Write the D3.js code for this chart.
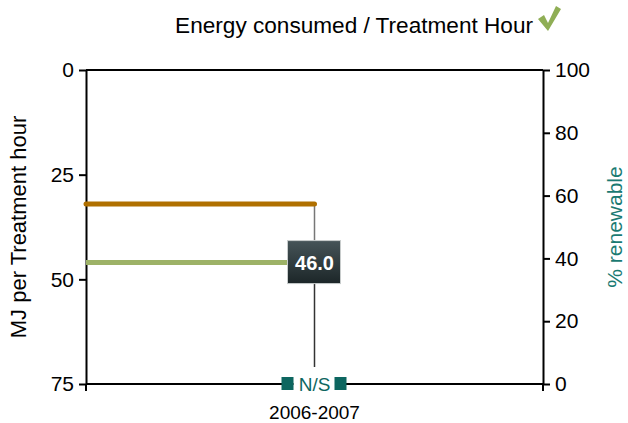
<!DOCTYPE html>
<html>
<head>
<meta charset="utf-8">
<script src="https://cdn.jsdelivr.net/npm/d3@7"></script>
<style>
  body { margin: 0; background: #fff; }
  text { font-family: "Liberation Sans", Arial, sans-serif; }
</style>
</head>
<body>
<script>
// data
var years = ["2006-2007"];
var energyValues = [46.0];      // MJ per treatment hour
var targetValues = [32];        // orange reference line
var renewableLabels = ["N/S"];
var leftTicks = [0, 25, 50, 75];
var rightTicks = [0, 20, 40, 60, 80, 100];

var margin = { top: 70, right: 85, bottom: 39, left: 86 };
var width = 628 - margin.left - margin.right,
    height = 423 - margin.top - margin.bottom;

var svg = d3.select("body").append("svg")
    .attr("width", 628)
    .attr("height", 423);

var g = svg.append("g")
    .attr("transform", "translate(" + margin.left + "," + margin.top + ")");

// scales
var x = d3.scalePoint().domain(years).range([0, width]).padding(0.5);
var y = d3.scaleLinear().domain([0, 75]).range([0, height]);
var y2 = d3.scaleLinear().domain([0, 100]).range([height, 0]);

// gradient for the value box
var defs = svg.append("defs");
var grad = defs.append("linearGradient").attr("id", "boxGrad")
    .attr("x1", 0).attr("y1", 0).attr("x2", 0).attr("y2", 1);
grad.append("stop").attr("offset", "0%").attr("stop-color", "#465458");
grad.append("stop").attr("offset", "100%").attr("stop-color", "#1c2628");

// axes
var leftAxis = g.append("g")
    .call(d3.axisLeft(y).tickValues(leftTicks).tickSize(7).tickSizeOuter(0));
var rightAxis = g.append("g").attr("transform", "translate(" + width + ",0)")
    .call(d3.axisRight(y2).tickValues(rightTicks).tickSize(7).tickSizeOuter(0));
[leftAxis, rightAxis].forEach(function (a) {
    a.attr("font-size", 21).attr("font-family", "Liberation Sans, Arial, sans-serif");
    a.select(".domain").attr("stroke", "#000").attr("stroke-width", 2);
    a.selectAll(".tick line").attr("stroke", "#000").attr("stroke-width", 2);
    a.selectAll(".tick text").attr("fill", "#000");
});
leftAxis.selectAll(".tick text").attr("x", -12);
rightAxis.selectAll(".tick text").attr("x", 12);

// top and bottom frame lines
g.append("line").attr("x1", 0).attr("x2", width).attr("y1", 0).attr("y2", 0)
    .attr("stroke", "#000").attr("stroke-width", 2);
g.append("line").attr("x1", 0).attr("x2", width).attr("y1", height).attr("y2", height)
    .attr("stroke", "#000").attr("stroke-width", 2);
// bottom corner ticks
[0, width].forEach(function (px) {
    g.append("line").attr("x1", px).attr("x2", px).attr("y1", height).attr("y2", height + 7)
        .attr("stroke", "#000").attr("stroke-width", 2);
});

// x label
g.selectAll(".xlab").data(years).enter().append("text")
    .attr("x", function (d) { return x(d); })
    .attr("y", height + 35)
    .attr("text-anchor", "middle")
    .attr("font-size", "19px")
    .text(function (d) { return d; });

// drop line from reference line to the marker
years.forEach(function (d, i) {
    var cx = x(d);
    g.append("line").attr("x1", cx).attr("x2", cx)
        .attr("y1", y(targetValues[i])).attr("y2", y(energyValues[i]))
        .attr("stroke", "#777").attr("stroke-width", 1.5);
    g.append("line").attr("x1", cx).attr("x2", cx)
        .attr("y1", y(energyValues[i])).attr("y2", height - 17)
        .attr("stroke", "#333").attr("stroke-width", 1.5);
});

// reference (orange) and energy (green) lines
g.selectAll(".target").data(targetValues).enter().append("line")
    .attr("x1", 0).attr("x2", function (d, i) { return x(years[i]); })
    .attr("y1", function (d) { return y(d); }).attr("y2", function (d) { return y(d); })
    .attr("stroke", "#b07000").attr("stroke-width", 5).attr("stroke-linecap", "round");

g.selectAll(".energy").data(energyValues).enter().append("line")
    .attr("x1", 0).attr("x2", function (d, i) { return x(years[i]); })
    .attr("y1", function (d) { return y(d); }).attr("y2", function (d) { return y(d); })
    .attr("stroke", "#9db267").attr("stroke-width", 5);

// value box
var boxes = g.selectAll(".vbox").data(energyValues).enter().append("g")
    .attr("transform", function (d, i) { return "translate(" + x(years[i]) + "," + y(d) + ")"; });
boxes.append("rect")
    .attr("x", -27).attr("y", -22).attr("width", 53).attr("height", 43)
    .attr("fill", "url(#boxGrad)").attr("stroke", "#c8cccc").attr("stroke-width", 1);
boxes.append("text")
    .attr("x", 0).attr("y", 7)
    .attr("text-anchor", "middle")
    .attr("font-size", "20px").attr("font-weight", "bold")
    .attr("fill", "#fff")
    .text(function (d) { return d.toFixed(1); });

// renewable marker on the bottom axis
var ns = g.selectAll(".ns").data(renewableLabels).enter().append("g")
    .attr("transform", function (d, i) { return "translate(" + x(years[i]) + "," + height + ")"; });
ns.append("rect").attr("x", -21).attr("y", -10).attr("width", 42).attr("height", 18).attr("fill", "#fff");
ns.append("rect").attr("x", -33).attr("y", -7).attr("width", 12).attr("height", 13).attr("fill", "#0d6660");
ns.append("rect").attr("x", 20).attr("y", -7).attr("width", 12).attr("height", 13).attr("fill", "#0d6660");
ns.append("text").attr("x", 0).attr("y", 7).attr("text-anchor", "middle")
    .attr("font-size", "19px").attr("fill", "#0d6660")
    .text(function (d) { return d; });

// axis titles
svg.append("text")
    .attr("transform", "translate(26," + (margin.top + height / 2) + ") rotate(-90)")
    .attr("text-anchor", "middle")
    .attr("font-size", "22px")
    .text("MJ per Treatment hour");
svg.append("text")
    .attr("transform", "translate(622," + (margin.top + height / 2) + ") rotate(-90)")
    .attr("text-anchor", "middle")
    .attr("font-size", "21px")
    .attr("fill", "#1a7a72")
    .text("% renewable");

// chart title with check mark
svg.append("text")
    .attr("x", 533).attr("y", 33)
    .attr("text-anchor", "end")
    .attr("font-size", "22.6px")
    .text("Energy consumed / Treatment Hour");
svg.append("path")
    .attr("d", "M538,19 L544,15 L548,23 L556,6 L561,9 L548,31 Z")
    .attr("fill", "#8fae55");
</script>
</body>
</html>
